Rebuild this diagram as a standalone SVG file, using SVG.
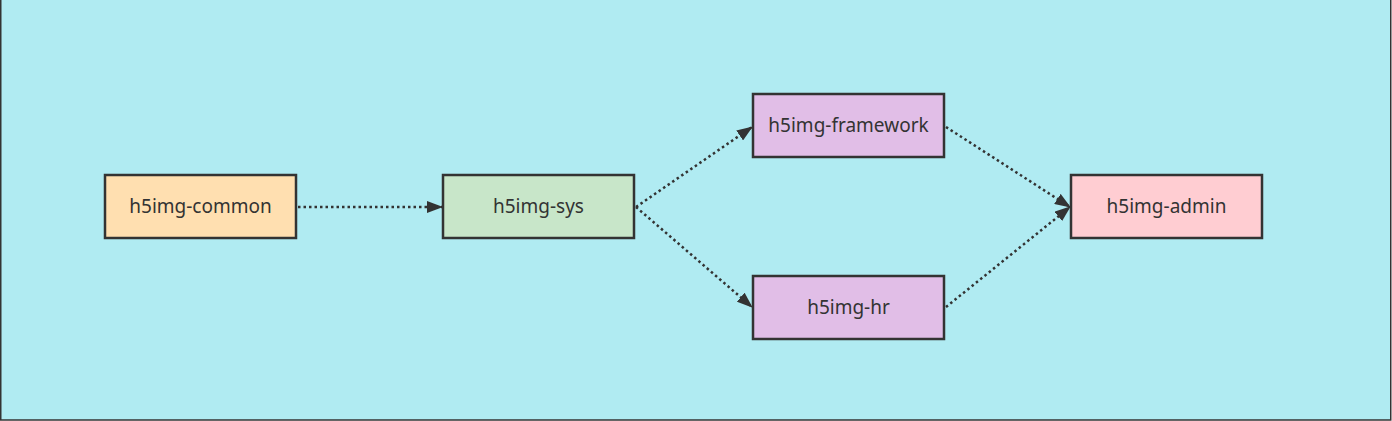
<svg xmlns="http://www.w3.org/2000/svg" width="1392" height="421" viewBox="0 0 1392 421">
<style>
.node rect{stroke:#333;stroke-width:2.5}
.node text{font-family:"Noto Sans","Liberation Sans",sans-serif;font-size:19px;fill:#333;text-anchor:middle;dominant-baseline:central}
.edge{fill:none;stroke:#333;stroke-width:2.5;stroke-dasharray:2.5 3;marker-end:url(#arr)}
</style>
<defs>
<marker id="arr" viewBox="0 0 16 12" refX="15" refY="6" markerWidth="16" markerHeight="12" markerUnits="userSpaceOnUse" orient="auto">
<path d="M0,0 L16,6 L0,12 Z" fill="#333"/>
</marker>
</defs>
<rect x="0.75" y="-5" width="1390" height="425" fill="#B0EBF2" stroke="#333" stroke-width="1.5"/>
<g id="connectors">
<path class="edge" d="M298,207 L442,207"/>
<path class="edge" d="M636,207 L752,127"/>
<path class="edge" d="M636,207 L752,307"/>
<path class="edge" d="M946,127 L1070,207"/>
<path class="edge" d="M946,307 L1070,207"/>
</g>
<g id="h5img-common" class="node"><rect x="105" y="175" width="191" height="63" fill="#FFDFB0"/><text x="200.5" y="205.5">h5img-common</text></g>
<g id="h5img-sys" class="node"><rect x="443" y="175" width="191" height="63" fill="#C8E6C9"/><text x="538.5" y="205.5">h5img-sys</text></g>
<g id="h5img-framework" class="node"><rect x="753" y="94" width="191" height="63" fill="#E1BEE7"/><text x="848.5" y="124.5">h5img-framework</text></g>
<g id="h5img-hr" class="node"><rect x="753" y="276" width="191" height="63" fill="#E1BEE7"/><text x="848.5" y="306.5">h5img-hr</text></g>
<g id="h5img-admin" class="node"><rect x="1071" y="175" width="191" height="63" fill="#FFCDD2"/><text x="1166.5" y="205.5">h5img-admin</text></g>
</svg>
